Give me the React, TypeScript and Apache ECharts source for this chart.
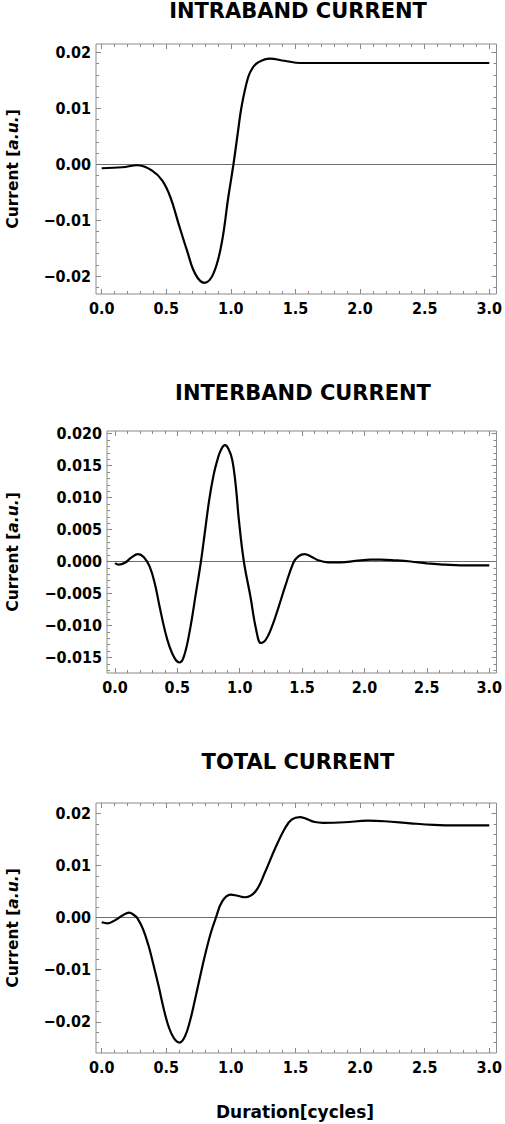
import React, { useEffect, useRef } from "react";
import * as echarts from "echarts";

// ---------- data ----------
const titles = ["INTRABAND CURRENT", "INTERBAND CURRENT", "TOTAL CURRENT"];
const yLabel = "Current [a.u.]";
const xLabel = "Duration[cycles]";

const intraX = [0, 0.16, 0.276, 0.39, 0.468, 0.532, 0.596, 0.66, 0.724, 0.795, 0.864, 0.928, 0.98, 1.02, 1.056, 1.082, 1.133, 1.17, 1.21, 1.3, 1.414, 1.54, 2.0, 2.5, 3.0];
const intraY = [-0.00072, -0.00054, -0.00018, -0.00114, -0.0029, -0.0059, -0.0107, -0.0154, -0.0196, -0.0212, -0.0196, -0.0142, -0.0059, 0.0, 0.006, 0.0102, 0.0155, 0.0173, 0.0182, 0.0189, 0.0185, 0.0181, 0.0181, 0.0181, 0.0181];

const interX = [0, 0.03, 0.08, 0.13, 0.185, 0.23, 0.278, 0.32, 0.357, 0.4, 0.437, 0.48, 0.516, 0.55, 0.596, 0.649, 0.689, 0.72, 0.755, 0.79, 0.821, 0.85, 0.882, 0.91, 0.94, 0.97, 0.993, 1.033, 1.086, 1.13, 1.17, 1.21, 1.258, 1.31, 1.364, 1.43, 1.47, 1.52, 1.57, 1.628, 1.708, 1.81, 1.93, 2.05, 2.13, 2.25, 2.37, 2.5, 2.65, 2.77, 3.0];
const interY = [-0.00025, -0.0005, -0.0002, 0.0006, 0.00115, 0.0007, -0.0008, -0.0035, -0.007, -0.0108, -0.0133, -0.0152, -0.0158, -0.015, -0.0112, -0.0049, 0.0, 0.0045, 0.0096, 0.0135, 0.0159, 0.0175, 0.0182, 0.0176, 0.0159, 0.0115, 0.0065, 0.0, -0.0055, -0.0105, -0.01275, -0.0122, -0.0102, -0.0072, -0.0039, -0.0002, 0.0008, 0.00115, 0.0008, 0.0002, -0.00012, -0.00012, 0.0001, 0.0003, 0.0003, 0.00018, 0.0, -0.0003, -0.0005, -0.0006, -0.0006];

const totalX = [0, 0.046, 0.11, 0.16, 0.212, 0.25, 0.276, 0.32, 0.365, 0.4, 0.442, 0.48, 0.519, 0.56, 0.603, 0.645, 0.685, 0.72, 0.762, 0.8, 0.844, 0.883, 0.933, 0.998, 1.05, 1.11, 1.19, 1.266, 1.343, 1.42, 1.47, 1.535, 1.58, 1.65, 1.714, 1.88, 2.06, 2.19, 2.39, 2.57, 2.75, 3.0];
const totalY = [-0.0009, -0.0011, -0.0004, 0.0004, 0.00096, 0.0005, -0.0001, -0.0022, -0.0056, -0.009, -0.0133, -0.0175, -0.021, -0.0232, -0.024, -0.0228, -0.0197, -0.016, -0.0113, -0.0072, -0.003, -0.0001, 0.0031, 0.0044, 0.0042, 0.0039, 0.005, 0.0088, 0.0133, 0.0172, 0.0188, 0.0193, 0.019, 0.01835, 0.0182, 0.0183, 0.0186, 0.0185, 0.0181, 0.0178, 0.0177, 0.0177];

// tick values
const xMajor = [0, 0.5, 1, 1.5, 2, 2.5, 3];
const xMinor = [0.1, 0.2, 0.3, 0.4, 0.6, 0.7, 0.8, 0.9, 1.1, 1.2, 1.3, 1.4, 1.6, 1.7, 1.8, 1.9, 2.1, 2.2, 2.3, 2.4, 2.6, 2.7, 2.8, 2.9];
const yMajor1 = [-0.02, -0.01, 0, 0.01, 0.02];
const yMinor1 = [-0.022, -0.018, -0.016, -0.014, -0.012, -0.008, -0.006, -0.004, -0.002, 0.002, 0.004, 0.006, 0.008, 0.012, 0.014, 0.016, 0.018];
const yMajor2 = [-0.015, -0.01, -0.005, 0, 0.005, 0.01, 0.015, 0.02];
const yMinor2 = [-0.017, -0.016, -0.014, -0.013, -0.012, -0.011, -0.009, -0.008, -0.007, -0.006, -0.004, -0.003, -0.002, -0.001, 0.001, 0.002, 0.003, 0.004, 0.006, 0.007, 0.008, 0.009, 0.011, 0.012, 0.013, 0.014, 0.016, 0.017, 0.018, 0.019];
const yMajor3 = [-0.02, -0.01, 0, 0.01, 0.02];
const yMinor3 = [-0.024, -0.022, -0.018, -0.016, -0.014, -0.012, -0.008, -0.006, -0.004, -0.002, 0.002, 0.004, 0.006, 0.008, 0.012, 0.014, 0.016, 0.018];

const FONT = "DejaVu Sans";
const FONT_C = "DejaVu Sans Condensed";
const FRAME = "#8a8a8a";

type Panel = {
  grid: { left: number; top: number; width: number; height: number };
  xMin: number; xMax: number; yMin: number; yMax: number;
  yMajor: number[]; yMinor: number[]; yDec: number;
  xs: number[]; ys: number[]; title: string; titleX: number; titleY: number;
};

const panels: Panel[] = [
  { grid: { left: 96, top: 44, width: 404, height: 250 }, xMin: -0.044, xMax: 3.056, yMin: -0.0232, yMax: 0.0215, yMajor: yMajor1, yMinor: yMinor1, yDec: 2, xs: intraX, ys: intraY, title: titles[0], titleX: 298, titleY: 11 },
  { grid: { left: 107, top: 431, width: 393, height: 242 }, xMin: -0.064, xMax: 3.058, yMin: -0.01744, yMax: 0.02042, yMajor: yMajor2, yMinor: yMinor2, yDec: 3, xs: interX, ys: interY, title: titles[1], titleX: 303, titleY: 393 },
  { grid: { left: 96, top: 803, width: 404, height: 250 }, xMin: -0.044, xMax: 3.056, yMin: -0.026, yMax: 0.022, yMajor: yMajor3, yMinor: yMinor3, yDec: 2, xs: totalX, ys: totalY, title: titles[2], titleX: 298, titleY: 762 },
];

const fmt = (v: number, d: number) => {
  const s = Math.abs(v).toFixed(d);
  return v < -1e-9 ? "\u2212" + s : s;
};

function buildOption() {
  const grids: any[] = [];
  const xAxes: any[] = [];
  const yAxes: any[] = [];
  const series: any[] = [];
  const graphics: any[] = [];

  panels.forEach((p, g) => {
    grids.push({ ...p.grid, show: true, borderColor: FRAME, borderWidth: 1, backgroundColor: "transparent", containLabel: false });
    const labelStyle = { fontFamily: FONT_C, fontWeight: "bold", fontSize: 16, color: "#000" };
    const baseX = { gridIndex: g, type: "value", min: p.xMin, max: p.xMax, axisLine: { show: false, onZero: false }, splitLine: { show: false } };
    const baseY = { gridIndex: g, type: "value", min: p.yMin, max: p.yMax, axisLine: { show: false, onZero: false }, splitLine: { show: false } };
    const tick = (vals: number[], len: number) => ({ show: true, inside: true, length: len, customValues: vals, lineStyle: { color: FRAME, width: 1 } });
    ["bottom", "top"].forEach((pos) => {
      xAxes.push({ ...baseX, position: pos, axisLabel: pos === "bottom" ? { show: true, customValues: xMajor, formatter: (v: number) => v.toFixed(1), margin: 6, ...labelStyle } : { show: false }, axisTick: tick(xMajor, 5) });
      xAxes.push({ ...baseX, position: pos, axisLabel: { show: false }, axisTick: tick(xMinor, 3) });
    });
    ["left", "right"].forEach((pos) => {
      yAxes.push({ ...baseY, position: pos, axisLabel: pos === "left" ? { show: true, customValues: p.yMajor, formatter: (v: number) => fmt(v, p.yDec), margin: 5, ...labelStyle } : { show: false }, axisTick: tick(p.yMajor, 5) });
      yAxes.push({ ...baseY, position: pos, axisLabel: { show: false }, axisTick: tick(p.yMinor, 3) });
    });
    series.push({
      type: "line",
      xAxisIndex: g * 4,
      yAxisIndex: g * 4,
      data: p.xs.map((x, i) => [x, p.ys[i]]),
      showSymbol: false,
      smooth: 0.4,
      lineStyle: { color: "#000", width: 2.2 },
      z: 5,
      markLine: {
        silent: true,
        symbol: ["none", "none"],
        label: { show: false },
        lineStyle: { color: "#6e6e6e", width: 1, type: "solid" },
        data: [{ yAxis: 0 }],
        z: 3,
      },
    });
    graphics.push({
      type: "text", x: p.titleX, y: p.titleY,
      style: { text: p.title, font: `bold 21px "${FONT}"`, fill: "#000", textAlign: "center", textVerticalAlign: "middle" },
    });
    graphics.push({
      type: "text", x: 13, y: p.grid.top + p.grid.height / 2, rotation: Math.PI / 2,
      style: {
        text: "{b|Current [}{i|a.u.}{b|]}",
        textAlign: "center", textVerticalAlign: "middle",
        rich: {
          b: { fontFamily: FONT, fontWeight: "bold", fontSize: 15.5, fill: "#000" },
          i: { fontFamily: FONT, fontWeight: "bold", fontStyle: "italic", fontSize: 15.5, fill: "#000" },
        },
      },
    });
  });

  graphics.push({
    type: "text", x: 295, y: 1112,
    style: { text: xLabel, font: `bold 17px "${FONT}"`, fill: "#000", textAlign: "center", textVerticalAlign: "middle" },
  });

  return {
    animation: false,
    backgroundColor: "#fff",
    grid: grids,
    xAxis: xAxes,
    yAxis: yAxes,
    series,
    graphic: graphics,
  };
}

export default function App() {
  const ref = useRef<HTMLDivElement>(null);
  useEffect(() => {
    if (!ref.current) return;
    const chart = echarts.init(ref.current, null, { renderer: "svg" });
    chart.setOption(buildOption() as any);
    return () => chart.dispose();
  }, []);
  return <div ref={ref} style={{ position: "absolute", left: 0, top: 0, width: 505, height: 1124 }} aria-label={yLabel} />;
}
